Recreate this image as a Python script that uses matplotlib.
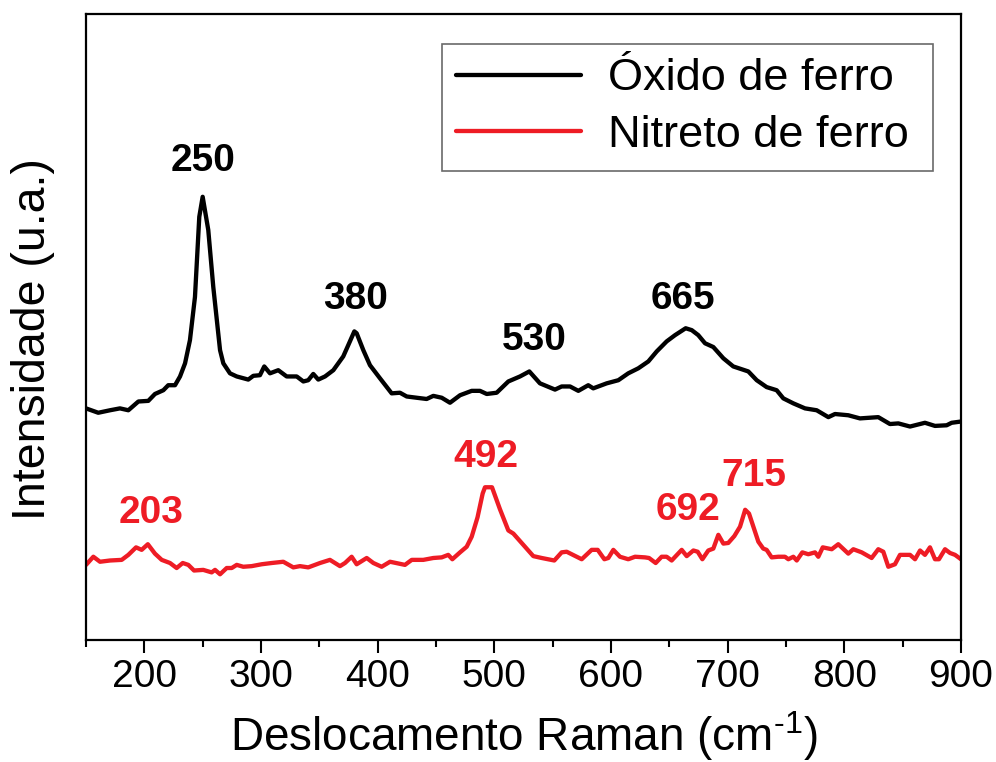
import numpy as np
import matplotlib
matplotlib.use("Agg")
import matplotlib.pyplot as plt
from matplotlib.ticker import MultipleLocator

plt.rcParams['font.family'] = ['Liberation Sans', 'DejaVu Sans']
plt.rcParams['mathtext.fontset'] = 'custom'
plt.rcParams['mathtext.rm'] = 'Liberation Sans'

# Raman spectra (cm-1, a.u.)
oxido_x = [150, 160.5, 170.6, 179.1, 186.3, 194.9, 203.4, 209.1, 216.3, 220.5,
           226.3, 230.6, 234.9, 239.1, 243.4, 247.1, 250, 254.8, 259.1, 264.9,
           267.7, 273.4, 279.2, 289.1, 293.4, 299.1, 302.8, 307.7, 314.8, 322.0,
           330.6, 336.3, 340.5, 344.8, 349.1, 354.9, 362.0, 370.5, 374.8, 380,
           382.0, 387.7, 393.4, 402.0, 412.0, 419.1, 424.9, 433.4, 442.0, 447.7,
           454.9, 462.0, 470.6, 480.6, 487.7, 493.5, 502.0, 512.0, 522.0, 530,
           539.1, 552.0, 557.7, 564.9, 572.0, 580.5, 584.8, 596.3, 606.3, 614.8,
           623.4, 632.0, 639.2, 647.7, 654.9, 664, 669.2, 674.8, 680.6, 687.7,
           696.3, 704.8, 717.7, 724.9, 733.4, 742.0, 747.7, 756.3, 766.3, 776.3,
           786.3, 792.0, 803.4, 813.4, 829.1, 839.1, 846.3, 856.3, 869.1, 877.7,
           887.7, 892.0, 900]
oxido_y = [37.0, 36.3, 36.7, 37.0, 36.7, 38.1, 38.2, 39.3, 39.9, 40.7,
           40.7, 42.1, 44.2, 47.9, 54.8, 67.6, 70.8, 65.5, 56.4, 46.3,
           44.2, 42.6, 42.1, 41.6, 42.2, 42.3, 43.7, 42.6, 43.1, 42.1,
           42.1, 41.3, 41.5, 42.5, 41.6, 42.1, 43.1, 45.3, 47.1, 49.3,
           49.0, 46.3, 43.9, 41.8, 39.4, 39.5, 38.9, 38.7, 38.5, 39.0,
           38.7, 37.9, 39.1, 39.8, 39.8, 39.3, 39.5, 41.3, 42.1, 42.9,
           41.0, 40.0, 40.5, 40.5, 39.8, 40.7, 40.2, 41.0, 41.5, 42.6,
           43.4, 44.5, 46.1, 47.7, 48.7, 49.8, 49.5, 48.7, 47.4, 46.8,
           45.0, 43.7, 42.9, 41.5, 40.4, 39.9, 38.6, 37.8, 37.0, 36.7,
           35.6, 36.1, 35.9, 35.4, 35.6, 34.5, 34.6, 34.1, 34.7, 34.2,
           34.3, 34.7, 34.9]

nitreto_x = [150, 156.3, 162.0, 170.6, 180.6, 186.3, 192.9, 197.7, 203, 209.1,
             214.9, 222.0, 227.7, 232.9, 237.7, 242.6, 250.5, 257.7, 260.6, 264.9,
             270.6, 274.9, 279.2, 284.8, 292.0, 300.6, 309.2, 319.1, 327.7, 333.4,
             340.5, 350.6, 359.1, 367.7, 372.0, 377.7, 382.0, 390.6, 396.3, 403.4,
             410.6, 423.4, 429.2, 439.1, 447.7, 454.9, 460.5, 464.0, 470.6, 476.3,
             480.6, 485.6, 490.0, 492, 498.0, 504.8, 512.0, 516.3, 524.8, 533.4,
             540.6, 551.4, 557.7, 562.0, 574.9, 583.4, 588.6, 594.3, 597.7, 602.0,
             607.7, 614.8, 620.6, 629.1, 632.6, 638.3, 643.4, 647.7, 652.0, 660.6,
             664.9, 670.6, 674.3, 678.3, 683.4, 687.7, 692, 696.3, 700.5, 705.7,
             710.6, 715, 718.3, 722.0, 726.3, 730.5, 733.4, 737.7, 743.4, 749.1,
             752.0, 756.3, 759.2, 764.0, 769.1, 774.9, 777.7, 781.5, 789.2, 794.8,
             803.4, 807.7, 814.9, 823.4, 829.1, 833.4, 837.7, 843.4, 847.7, 856.3,
             860.6, 864.9, 869.1, 873.4, 877.7, 881.1, 886.3, 890.6, 894.9, 900]
nitreto_y = [12.0, 13.3, 12.5, 12.7, 12.8, 13.6, 14.8, 14.4, 15.3, 13.8,
             12.8, 12.3, 11.5, 12.3, 12.0, 11.1, 11.2, 10.8, 11.2, 10.5,
             11.5, 11.5, 12.0, 11.7, 11.8, 12.1, 12.3, 12.5, 11.6, 11.8,
             11.6, 12.3, 12.8, 11.8, 12.3, 13.3, 12.1, 13.1, 12.3, 11.7,
             12.5, 12.0, 12.8, 12.8, 13.1, 13.2, 13.6, 12.9, 14.0, 14.9,
             16.5, 19.6, 23.4, 24.4, 24.4, 20.9, 17.5, 17.0, 15.2, 13.4,
             13.1, 12.7, 14.0, 14.1, 12.9, 14.4, 14.4, 12.9, 13.1, 14.4,
             13.3, 12.9, 13.3, 13.2, 13.1, 12.3, 13.3, 13.3, 12.7, 14.4,
             13.4, 14.3, 14.1, 12.9, 14.3, 14.6, 16.8, 15.4, 15.5, 16.6,
             18.1, 20.8, 20.2, 18.1, 15.7, 14.6, 14.4, 13.2, 13.3, 13.3,
             12.9, 13.3, 12.7, 14.0, 13.7, 14.0, 13.3, 14.8, 14.5, 15.3,
             13.8, 14.5, 14.0, 13.1, 14.5, 14.1, 11.7, 12.1, 13.6, 13.6,
             12.9, 14.3, 13.6, 14.8, 12.9, 12.9, 14.5, 13.9, 13.6, 12.9]

oxido_peaks = [250, 380, 530, 665]
nitreto_peaks = [203, 492, 692, 715]

black = '#000000'
red = '#EE1C25'

fig = plt.figure(figsize=(9.96, 7.62), dpi=100)
ax = fig.add_axes([86 / 996, 1 - 640 / 762, 875 / 996, 626 / 762])

line_kw = dict(lw=3.1, solid_joinstyle='round', solid_capstyle='round')
ax.plot(oxido_x, oxido_y, color=black, label='Óxido de ferro', **line_kw)
ax.plot(nitreto_x, nitreto_y, color=red, label='Nitreto de ferro', **line_kw)

# peak labels, offsets in points from the curve at each peak
oxido_off = [(0, 26), (1, 23), (3.5, 22.6), (-2.7, 21.2)]
nitreto_off = [(2, 22.3), (0.7, 21.5), (-21.8, 18), (6.5, 24.5)]
for peaks, xs, ys, offs, c in [(oxido_peaks, oxido_x, oxido_y, oxido_off, black),
                               (nitreto_peaks, nitreto_x, nitreto_y, nitreto_off, red)]:
    for p, off in zip(peaks, offs):
        yp = np.interp(p, xs, ys)
        ax.annotate(str(p), (p, yp), xytext=off, textcoords='offset points',
                    ha='center', va='center', fontsize=28, fontweight='bold', color=c)

ax.set_xlim(150, 900)
ax.set_ylim(0, 100)
ax.set_yticks([])
ax.xaxis.set_major_locator(MultipleLocator(100))
ax.xaxis.set_minor_locator(MultipleLocator(50))
ax.tick_params(axis='x', which='major', direction='out', length=9.5, width=1.5,
               labelsize=28, pad=4.5)
ax.tick_params(axis='x', which='minor', direction='out', length=5, width=1.5)
for s in ax.spines.values():
    s.set_linewidth(1.6)

ax.set_xlabel(r'Deslocamento Raman (cm$^{\mathregular{\text{-1}}}$)', fontsize=33, labelpad=10)
ax.set_ylabel('Intensidade (u.a.)', fontsize=33.5)
ax.yaxis.set_label_coords(-0.0354, 0.481)

# legend box stretched to a fixed width, text left-aligned after the handles
leg = ax.legend(loc='upper right', bbox_to_anchor=(0.4069, 0, 0.5611, 0.952),
                mode='expand', fontsize=32.5, frameon=True, fancybox=False,
                handlelength=2.75, handletextpad=0.6, borderpad=0.32,
                labelspacing=0.35, borderaxespad=0)
leg.get_frame().set_edgecolor('#444444')
leg.get_frame().set_linewidth(1.2)

fig.savefig('out.png', dpi=100)
